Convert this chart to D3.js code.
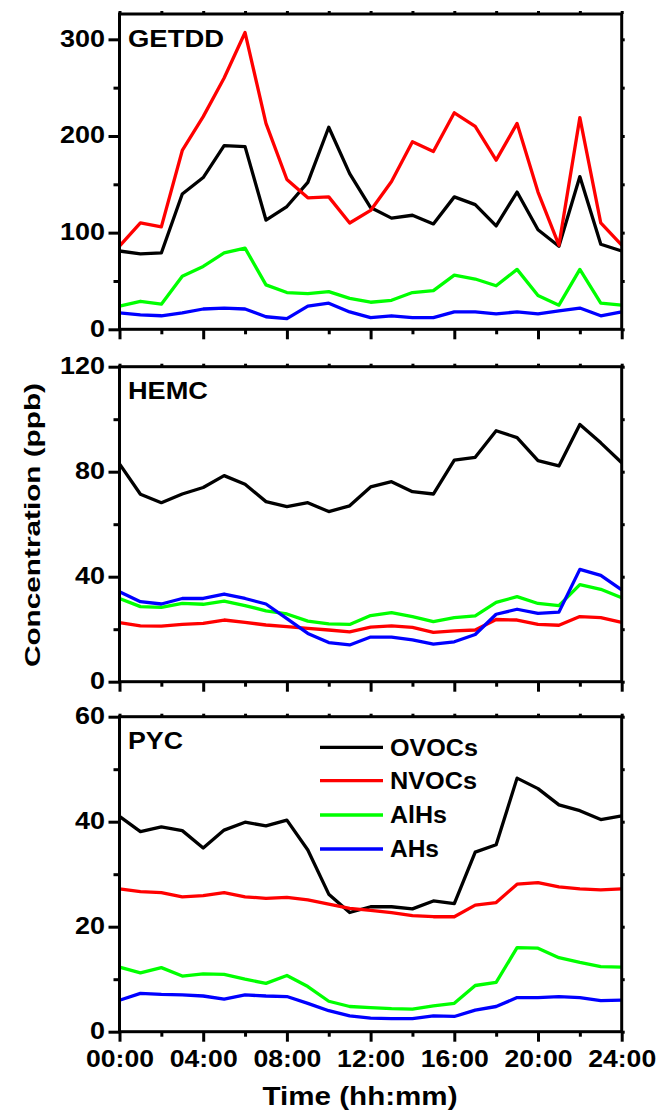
<!DOCTYPE html>
<html><head><meta charset="utf-8">
<script src="https://cdn.jsdelivr.net/npm/d3@7"></script>
<style>
html,body{margin:0;padding:0;background:#fff;}
text{font-family:"Liberation Sans",Arial,sans-serif;font-weight:bold;fill:#000;}
</style></head>
<body><svg id="c" width="658" height="1110"></svg>
<script>
// ---- data ----
const hours = [0,1,2,3,4,5,6,7,8,9,10,11,12,13,14,15,16,17,18,19,20,21,22,23,24];
const seriesNames = ["OVOCs","NVOCs","AlHs","AHs"];
const seriesColors = ["#000000","#ff0000","#00ff00","#0000ff"];
const panelNames = ["GETDD","HEMC","PYC"];

const getddOVOCs = [81,78,79,140,157,190,189,113,127,152,209,161,126,115,118,109,137,129,107,142,103,86,158,88,81];
const getddNVOCs = [86,110,106,185,220,260,307,213,155,136,137,110,123,153,194,184,224,210,175,213,142,87,219,110,87];
const getddAlHs  = [24,29,26,55,65,79,84,46,38,37,39,32,28,30,38,40,56,52,45,62,35,25,62,27,25];
const getddAHs   = [17,15,14,17,21,22,21,13,11,24,27,18,12,14,12,12,18,18,16,18,16,19,22,14,18];

const hemcOVOCs = [83,71.4,68.2,71.5,74,78.5,75.2,68.6,66.7,68.2,64.8,67,74.2,76.2,72.4,71.5,84.4,85.5,95.6,93,84.2,82.2,98,91,83.4];
const hemcNVOCs = [22.5,21.3,21.2,21.8,22.2,23.5,22.6,21.6,21,20.3,19.7,19,20.8,21.3,20.7,18.8,19.4,19.7,23.7,23.5,21.8,21.5,24.8,24.4,22.6];
const hemcAlHs  = [31.7,28.6,28.3,29.8,29.5,30.7,29,27,25.8,23.1,22,21.8,25.2,26.3,24.8,22.9,24.4,25.1,30.2,32.4,29.8,29,37,35.2,32];
const hemcAHs   = [34.3,30.5,29.6,31.7,31.7,33.4,31.7,29.6,24,18.4,14.9,14,17,17,15.9,14.3,15.2,18,25.7,27.6,26,26.5,42.8,40.5,35];

const pycOVOCs = [41,38.1,39,38.3,35,38.4,39.9,39.2,40.3,34.6,26.2,22.7,23.8,23.8,23.4,24.9,24.4,34.2,35.6,48.3,46.3,43.2,42.1,40.4,41.1];
const pycNVOCs = [27.2,26.7,26.5,25.7,25.9,26.5,25.7,25.4,25.6,25.1,24.3,23.5,23.1,22.7,22.1,21.9,21.9,24.1,24.6,28.1,28.4,27.6,27.2,27,27.2];
const pycAlHs  = [12.3,11.2,12.2,10.6,11,10.9,10,9.2,10.7,8.6,5.8,4.8,4.6,4.4,4.3,4.9,5.4,8.8,9.4,16,15.9,14.1,13.2,12.4,12.3];
const pycAHs   = [6,7.3,7.1,7,6.8,6.2,7,6.8,6.7,5.4,4,3,2.6,2.5,2.5,3,2.9,4.1,4.8,6.5,6.5,6.7,6.5,5.9,6];

const xMajorTicks = [0,4,8,12,16,20,24];
const xMinorTicks = [2,6,10,14,18,22];
const xTickLabels = ["00:00","04:00","08:00","12:00","16:00","20:00","24:00"];

const yMax = [326.2,120,60];
const yMajorTicks = [[0,100,200,300],[0,40,80,120],[0,20,40,60]];
const yMinorTicks = [[50,150,250],[20,60,100],[10,30,50]];

const panelData = [
  [getddOVOCs,getddNVOCs,getddAlHs,getddAHs],
  [hemcOVOCs,hemcNVOCs,hemcAlHs,hemcAHs],
  [pycOVOCs,pycNVOCs,pycAlHs,pycAHs]
];

// ---- layout ----
const L = 119.5, R = 621.7;
const panelBox = [[14,329.3],[366.7,681.7],[716.7,1031.7]];
const svg = d3.select("#c");
const x = d3.scaleLinear().domain([0,24]).range([L,R]);

panelData.forEach((series,p)=>{
  const [top,bot] = panelBox[p];
  const y = d3.scaleLinear().domain([0,yMax[p]]).range([bot,top]);
  const g = svg.append("g");

  // lines
  const line = d3.line().x((d,i)=>x(hours[i])).y(d=>y(d));
  series.forEach((vals,k)=>{
    g.append("path").datum(vals).attr("d",line)
      .attr("fill","none").attr("stroke",seriesColors[k])
      .attr("stroke-width",3.3).attr("stroke-linejoin","round");
  });

  // frame
  g.append("rect").attr("x",L).attr("y",top).attr("width",R-L).attr("height",bot-top)
    .attr("fill","none").attr("stroke","#000").attr("stroke-width",3);

  // left axis
  const ya = g.append("g").attr("transform",`translate(${L},0)`)
    .call(d3.axisLeft(y).tickValues(yMajorTicks[p]).tickSize(11).tickPadding(3).tickFormat(d3.format("d")));
  ya.select(".domain").remove();
  ya.selectAll("line").attr("stroke-width",3);
  ya.selectAll("text").attr("x",-14.5).attr("dy",null).attr("dominant-baseline",null)
    .attr("transform","translate(0,6.7)")
    .style("font-size","23px")
    .attr("textLength",function(d){return String(d).length*15;})
    .attr("lengthAdjust","spacingAndGlyphs");
  const ym = g.append("g").attr("transform",`translate(${L},0)`)
    .call(d3.axisLeft(y).tickValues(yMinorTicks[p]).tickSize(6).tickFormat(""));
  ym.select(".domain").remove();
  ym.selectAll("line").attr("stroke-width",3);
  // right mirror ticks
  const yr = g.append("g").attr("transform",`translate(${R},0)`)
    .call(d3.axisRight(y).tickValues(yMajorTicks[p].concat(yMinorTicks[p])).tickSize(3).tickFormat(""));
  yr.select(".domain").remove();
  yr.selectAll("line").attr("stroke-width",3);

  // bottom axis
  const xa = g.append("g").attr("transform",`translate(0,${bot})`)
    .call(d3.axisBottom(x).tickValues(xMajorTicks).tickSize(10).tickFormat((d,i)=>xTickLabels[i]));
  xa.select(".domain").remove();
  xa.selectAll("line").attr("stroke-width",3);
  if (p===2) {
    xa.selectAll("text").attr("y",35.3).attr("dy",null)
      .style("font-size","24px")
      .attr("textLength",68).attr("lengthAdjust","spacingAndGlyphs");
  } else {
    xa.selectAll("text").remove();
  }
  const xm = g.append("g").attr("transform",`translate(0,${bot})`)
    .call(d3.axisBottom(x).tickValues(xMinorTicks).tickSize(5).tickFormat(""));
  xm.select(".domain").remove();
  xm.selectAll("line").attr("stroke-width",3);
  // top mirror ticks
  const xt = g.append("g").attr("transform",`translate(0,${top})`)
    .call(d3.axisTop(x).tickValues(xMajorTicks.concat(xMinorTicks)).tickSize(3).tickFormat(""));
  xt.select(".domain").remove();
  xt.selectAll("line").attr("stroke-width",3);

  // panel label
  const labW = [96,80,55];
  g.append("text").attr("x",128).attr("y",top+32.7).style("font-size","23.5px")
    .attr("textLength",labW[p]).attr("lengthAdjust","spacingAndGlyphs").text(panelNames[p]);
});

// legend
const legY = [747.3,780.7,815,849];
const legW = [88,87,57,49];
seriesNames.forEach((n,k)=>{
  svg.append("line").attr("x1",320).attr("x2",383).attr("y1",legY[k]).attr("y2",legY[k])
    .attr("stroke",seriesColors[k]).attr("stroke-width",3.3);
  svg.append("text").attr("x",390).attr("y",legY[k]+8.4).style("font-size","23.5px")
    .attr("textLength",legW[k]).attr("lengthAdjust","spacingAndGlyphs").text(n);
});

// axis titles
svg.append("text").attr("x",360).attr("y",1105).attr("text-anchor","middle")
  .style("font-size","25px").attr("textLength",195).attr("lengthAdjust","spacingAndGlyphs")
  .text("Time (hh:mm)");
svg.append("text").attr("transform","translate(39.5,525) rotate(-90)").attr("text-anchor","middle")
  .style("font-size","22.5px").attr("textLength",284).attr("lengthAdjust","spacingAndGlyphs")
  .text("Concentration (ppb)");
</script></body></html>
